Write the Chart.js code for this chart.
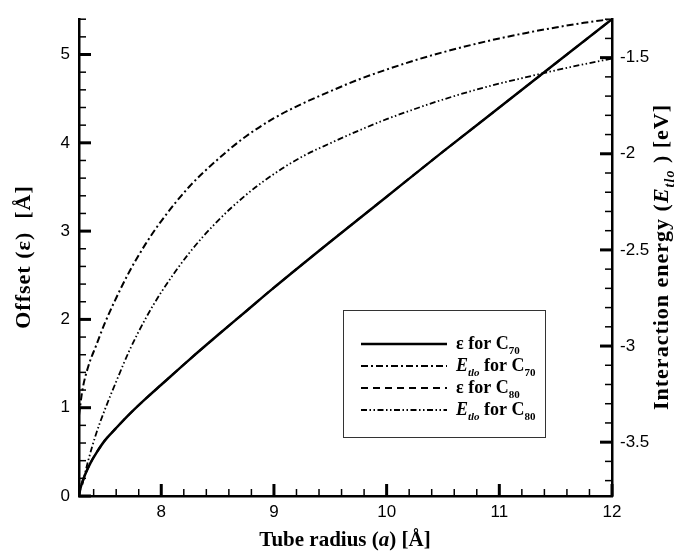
<!DOCTYPE html>
<html>
<head>
<meta charset="utf-8">
<script src="https://cdn.jsdelivr.net/npm/chart.js@4.4.1/dist/chart.umd.min.js"></script>
<style>
  body { margin: 0; background: #fff; }
</style>
</head>
<body>
<canvas id="chart" width="676" height="553"></canvas>
<script>
// offset epsilon (left axis), C70
const radiusC70 = [7.27, 7.28, 7.30, 7.33, 7.37, 7.43, 7.50, 7.60, 7.72, 7.86, 8.0, 8.25, 8.5, 8.75, 9.0, 9.5, 10.0, 10.5, 11.0, 11.5, 12.0];
const offsetC70 = [0, 0.07, 0.16, 0.26, 0.37, 0.50, 0.63, 0.77, 0.93, 1.10, 1.26, 1.545, 1.82, 2.09, 2.36, 2.88, 3.39, 3.90, 4.40, 4.90, 5.40];
// offset epsilon, C80 (lies under the C70 curve)
const radiusC80 = [7.27, 7.28, 7.30, 7.33, 7.37, 7.43, 7.50, 7.60, 7.72, 7.86, 8.0, 8.25, 8.5, 8.75, 9.0, 9.5, 10.0, 10.5, 11.0, 11.5, 12.0];
const offsetC80 = [0, 0.07, 0.16, 0.26, 0.37, 0.50, 0.63, 0.77, 0.93, 1.10, 1.26, 1.545, 1.82, 2.09, 2.36, 2.88, 3.39, 3.90, 4.40, 4.90, 5.40];
// interaction energy (right axis)
const energyRadiusC70 = [7.27, 7.30, 7.35, 7.42, 7.50, 7.60, 7.72, 7.86, 8.0, 8.25, 8.5, 8.75, 9.0, 9.25, 9.5, 9.75, 10.0, 10.25, 10.5, 10.75, 11.0, 11.25, 11.5, 11.75, 12.0];
const energyC70 = [-3.36, -3.23, -3.11, -3.00, -2.88, -2.75, -2.61, -2.47, -2.35, -2.17, -2.03, -1.91, -1.815, -1.74, -1.675, -1.614, -1.562, -1.514, -1.472, -1.434, -1.400, -1.370, -1.343, -1.319, -1.298];
const energyRadiusC80 = [7.30, 7.35, 7.42, 7.50, 7.60, 7.72, 7.86, 8.0, 8.25, 8.5, 8.75, 9.0, 9.25, 9.5, 9.75, 10.0, 10.25, 10.5, 10.75, 11.0, 11.25, 11.5, 11.75, 12.0];
const energyC80 = [-3.72, -3.60, -3.46, -3.33, -3.185, -3.02, -2.858, -2.72, -2.515, -2.35, -2.215, -2.105, -2.015, -1.945, -1.88, -1.82, -1.767, -1.718, -1.674, -1.635, -1.600, -1.566, -1.534, -1.505];

const xRange = [7.27, 12];
const offsetRange = [0, 5.4];
const energyRange = [-3.78, -1.3];

const legendLabels = [
  [{t: 'ε for C'}, {t: '70', sub: true}],
  [{t: 'E', it: true}, {t: 'tlo', it: true, sub: true}, {t: ' for C'}, {t: '70', sub: true}],
  [{t: 'ε for C'}, {t: '80', sub: true}],
  [{t: 'E', it: true}, {t: 'tlo', it: true, sub: true}, {t: ' for C'}, {t: '80', sub: true}]
];
const xTitle = [{t: 'Tube radius ('}, {t: 'a', it: true}, {t: ') [Å]'}];
const yTitle = [{t: 'Offset (ε)  [Å]'}];
const y2Title = [{t: 'Interaction energy ('}, {t: 'E', it: true}, {t: 'tlo', it: true, sub: true}, {t: ' ) [eV]'}];

const serif = '"Liberation Serif", "Times New Roman", serif';
const sans = '"Liberation Sans", Arial, sans-serif';

function pts(xs, ys) {
  return xs.map((x, i) => ({x: x, y: ys[i]}));
}

function runFont(r, size) {
  const s = r.sub ? Math.round(size * 0.62) : size;
  return (r.it ? 'italic ' : '') + 'bold ' + s + 'px ' + serif;
}

function runsWidth(ctx, runs, size) {
  let w = 0;
  runs.forEach(r => { ctx.font = runFont(r, size); w += ctx.measureText(r.t).width; });
  return w;
}

function drawRuns(ctx, runs, x, y, size) {
  ctx.textBaseline = 'alphabetic';
  ctx.textAlign = 'left';
  runs.forEach(r => {
    ctx.font = runFont(r, size);
    ctx.fillText(r.t, x, y + (r.sub ? size * 0.28 : 0));
    x += ctx.measureText(r.t).width;
  });
}

// inward tick marks, majors longer
function drawTicks(ctx, scale, minor, major, side, area) {
  const start = Math.ceil(scale.min / minor - 1e-6) * minor;
  for (let v = start; v <= scale.max + 1e-6; v += minor) {
    const isMajor = Math.abs(v / major - Math.round(v / major)) < 1e-6;
    const len = isMajor ? 12 : 7;
    ctx.lineWidth = isMajor ? 3 : 1.5;
    const p = scale.getPixelForValue(v);
    ctx.beginPath();
    if (side === 'bottom') { ctx.moveTo(p, area.bottom); ctx.lineTo(p, area.bottom - len); }
    if (side === 'left') { ctx.moveTo(area.left, p); ctx.lineTo(area.left + len, p); }
    if (side === 'right') { ctx.moveTo(area.right, p); ctx.lineTo(area.right - len, p); }
    ctx.stroke();
  }
}

const decorations = {
  id: 'decorations',
  afterDraw(chart) {
    const ctx = chart.ctx;
    const a = chart.chartArea;
    ctx.save();
    ctx.strokeStyle = '#000';
    ctx.fillStyle = '#000';
    drawTicks(ctx, chart.scales.x, 0.2, 1, 'bottom', a);
    drawTicks(ctx, chart.scales.y, 0.2, 1, 'left', a);
    drawTicks(ctx, chart.scales.y2, 0.1, 0.5, 'right', a);

    // axis titles
    let w = runsWidth(ctx, xTitle, 21);
    drawRuns(ctx, xTitle, 345 - w / 2, 546, 21);

    ctx.save();
    ctx.letterSpacing = '1px';
    ctx.translate(30, 257);
    ctx.rotate(-Math.PI / 2);
    w = runsWidth(ctx, yTitle, 22);
    drawRuns(ctx, yTitle, -w / 2, 0, 22);
    ctx.restore();

    ctx.save();
    ctx.letterSpacing = '1px';
    ctx.translate(668, 257);
    ctx.rotate(-Math.PI / 2);
    w = runsWidth(ctx, y2Title, 22);
    drawRuns(ctx, y2Title, -w / 2, 0, 22);
    ctx.restore();

    // legend box
    ctx.lineWidth = 1;
    ctx.strokeStyle = '#333';
    ctx.strokeRect(343.5, 310.5, 202, 127);
    const rows = [344, 366, 388, 410];
    chart.data.datasets.forEach((ds, i) => {
      ctx.strokeStyle = '#000';
      ctx.lineWidth = ds.borderWidth;
      ctx.setLineDash(ds.borderDash || []);
      ctx.beginPath();
      ctx.moveTo(361, rows[i]);
      ctx.lineTo(447, rows[i]);
      ctx.stroke();
      ctx.setLineDash([]);
      drawRuns(ctx, legendLabels[i], 456, rows[i] + 5, 18);
    });
    ctx.restore();
  }
};

new Chart(document.getElementById('chart'), {
  type: 'line',
  data: {
    datasets: [{
      data: pts(radiusC70, offsetC70),
      yAxisID: 'y',
      borderColor: '#000',
      borderWidth: 2.5,
      borderDash: []
    }, {
      data: pts(energyRadiusC70, energyC70),
      yAxisID: 'y2',
      borderColor: '#000',
      borderWidth: 2,
      borderDash: [7, 3, 2, 3]
    }, {
      data: pts(radiusC80, offsetC80),
      yAxisID: 'y',
      borderColor: '#000',
      borderWidth: 2,
      borderDash: [7, 5]
    }, {
      data: pts(energyRadiusC80, energyC80),
      yAxisID: 'y2',
      borderColor: '#000',
      borderWidth: 1.8,
      borderDash: [6, 2.5, 1.5, 2.5, 1.5, 2.5]
    }]
  },
  options: {
    responsive: false,
    animation: false,
    elements: {
      point: { radius: 0 },
      line: { cubicInterpolationMode: 'monotone', fill: false }
    },
    layout: { padding: { top: 12, left: 0, right: 0, bottom: 0 } },
    plugins: {
      legend: { display: false },
      tooltip: { enabled: false }
    },
    scales: {
      x: {
        type: 'linear',
        min: xRange[0],
        max: xRange[1],
        grid: { display: false, drawTicks: false },
        border: { display: true, width: 2.5, color: '#000' },
        ticks: {
          stepSize: 1,
          padding: 6,
          color: '#000',
          font: { family: sans, size: 17 },
          callback: v => Number.isInteger(Math.round(v * 1000) / 1000) ? String(v) : null
        },
        afterFit: s => { s.height = 57; }
      },
      y: {
        type: 'linear',
        position: 'left',
        min: offsetRange[0],
        max: offsetRange[1],
        grid: { display: false, drawTicks: false },
        border: { display: true, width: 2.5, color: '#000' },
        ticks: {
          stepSize: 1,
          padding: 9,
          color: '#000',
          font: { family: sans, size: 17 },
          callback: v => Math.abs(v - Math.round(v)) < 1e-6 ? String(Math.round(v)) : null
        },
        afterFit: s => { s.width = 79; }
      },
      y2: {
        type: 'linear',
        position: 'right',
        min: energyRange[0],
        max: energyRange[1],
        grid: { display: false, drawTicks: false },
        border: { display: true, width: 2.5, color: '#000' },
        ticks: {
          stepSize: 0.5,
          padding: 8,
          color: '#000',
          font: { family: sans, size: 17 },
          callback: v => Math.abs(v * 2 - Math.round(v * 2)) < 1e-6 ? String(Math.round(v * 10) / 10) : null
        },
        afterFit: s => { s.width = 64; }
      }
    }
  },
  plugins: [decorations]
});
</script>
</body>
</html>
